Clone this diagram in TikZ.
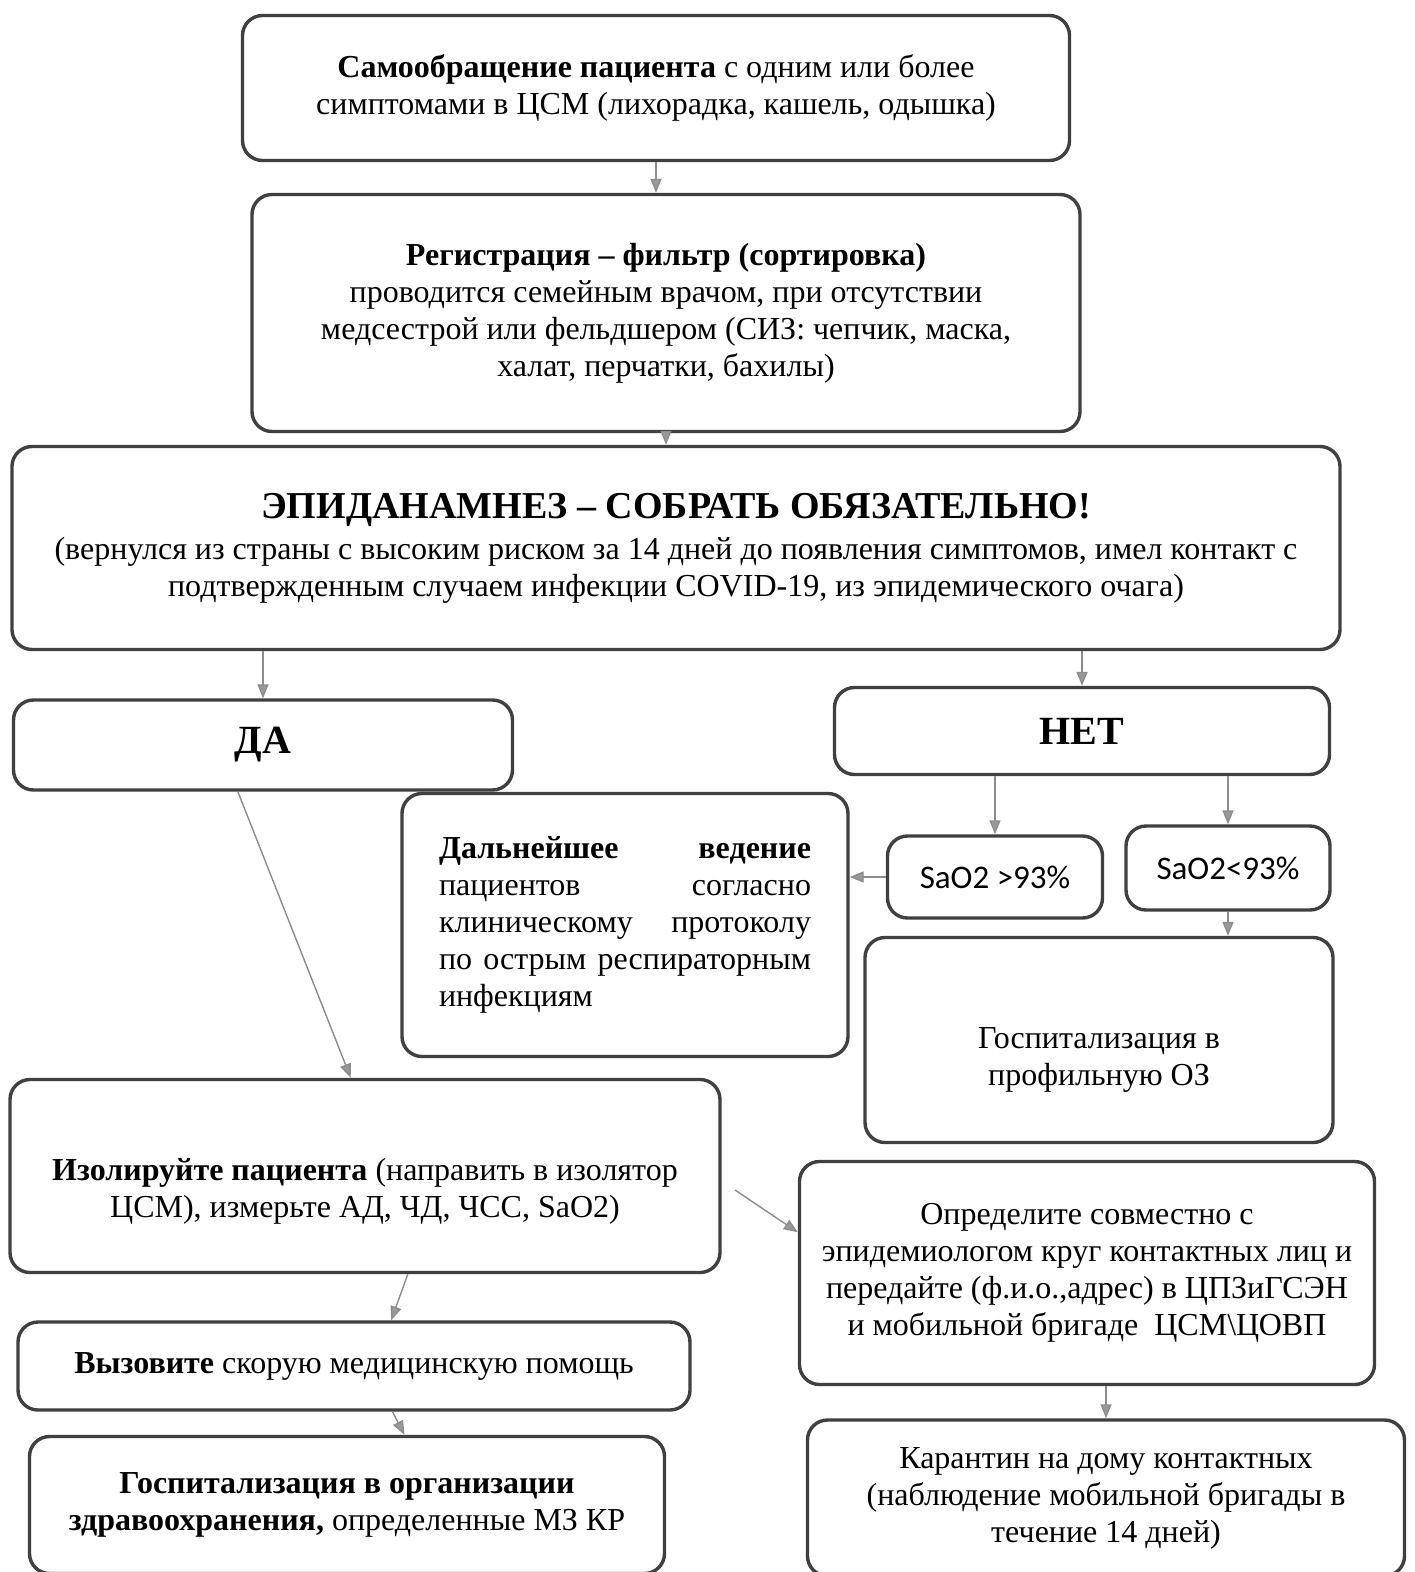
\documentclass[tikz,border=0pt]{standalone}
\usepackage{fontspec}
\setmainfont{Liberation Serif}
\newfontfamily\sansfont{Carlito}
\usetikzlibrary{arrows.meta,positioning,calc}

\tikzset{
  box/.style={draw=black!75, line width=3.4pt, rounded corners=20pt, align=center, inner sep=0pt, fill=white},
  arr/.style={draw=black!45, line width=1.4pt, -{Triangle[length=14pt,width=11pt,fill=black!40]}},
  big/.style={font=\fontsize{40}{46}\selectfont\bfseries},
  sat/.style={font=\sansfont\fontsize{33}{38}\selectfont},
}

\begin{document}
\begin{tikzpicture}[x=1pt,y=-1pt, font=\fontsize{32}{37}\selectfont]
\useasboundingbox[fill=white] (0,0) rectangle (1414,1572);
% top part
\node[box, minimum width=827pt, minimum height=145pt] (self) at (656,88)
  {\textbf{Самообращение пациента} с одним или более\\ симптомами в ЦСМ (лихорадка, кашель, одышка)};
\node[box, minimum width=828pt, minimum height=237pt] (reg) at (666,313)
  {\textbf{Регистрация – фильтр (сортировка)}\\ проводится семейным врачом, при отсутствии\\ медсестрой или фельдшером (СИЗ: чепчик, маска,\\ халат, перчатки, бахилы)};
\node[box, minimum width=1328pt, minimum height=203pt] (epid) at (676,548)
  {{\fontsize{38}{44}\selectfont\bfseries ЭПИДАНАМНЕЗ – СОБРАТЬ ОБЯЗАТЕЛЬНО!}\\[4pt]
   (вернулся из страны с высоким риском за 14 дней до появления симптомов, имел контакт с\\
   подтвержденным случаем инфекции COVID-19, из эпидемического очага)};
% yes / no
\node[box, big, minimum width=499pt, minimum height=90pt] (da) at (263,745) {ДА};
\node[box, big, minimum width=495pt, minimum height=87pt] (net) at (1082,731) {НЕТ};
\node[box, minimum width=446pt, minimum height=263pt, text width=372pt, align=left] (further) at (625,925)
  {\textbf{Дальнейшее}\hfill\textbf{ведение}\\
   пациентов\hfill согласно\\
   клиническому\hfill протоколу\\
   по\hfill острым\hfill респираторным\\
   инфекциям};
\node[box, sat, minimum width=215pt, minimum height=82pt] (sahi) at (995,877) {SaO2 >93\%};
\node[box, sat, minimum width=204pt, minimum height=84pt] (salo) at (1228,868) {SaO2<93\%};
\node[box, minimum width=468pt, minimum height=205pt] (hosp) at (1099,1040)
  {\mbox{}\\[24pt]Госпитализация в\\ профильную ОЗ};
% bottom part
\node[box, minimum width=710pt, minimum height=193pt] (iso) at (365,1176)
  {\mbox{}\\[16pt]\textbf{Изолируйте пациента} (направить в изолятор\\ ЦСМ), измерьте АД, ЧД, ЧСС, SaO2)};
\node[box, minimum width=575pt, minimum height=223pt] (contacts) at (1087,1273)
  {Определите совместно с\\ эпидемиологом круг контактных лиц и\\ передайте (ф.и.о.,адрес) в ЦПЗиГСЭН\\ и мобильной бригаде\ \ ЦСМ\textbackslash ЦОВП};
\node[box, minimum width=672pt, minimum height=88pt] (call) at (354,1366)
  {\textbf{Вызовите} скорую медицинскую помощь};
\node[box, minimum width=635pt, minimum height=137pt] (hospkr) at (347,1505)
  {\textbf{Госпитализация в организации}\\ \textbf{здравоохранения,} определенные МЗ КР};
\node[box, minimum width=597pt, minimum height=156pt] (quar) at (1106,1498)
  {Карантин на дому контактных\\ (наблюдение мобильной бригады в\\ течение 14 дней)};
\coordinate (isoout) at (735,1190);
% connectors
\draw[arr] (self.south) -- (self.south |- reg.north);
\draw[arr] (reg.south) -- (reg.south |- epid.north);
\draw[arr] (da.north |- epid.south) -- (da.north);
\draw[arr] (net.north |- epid.south) -- (net.north);
\draw[arr] (sahi.north |- net.south) -- (sahi.north);
\draw[arr] (salo.north |- net.south) -- (salo.north);
\draw[arr] (sahi.west) -- (sahi.west -| further.east);
\draw[arr] (salo.south) -- (salo.south |- hosp.north);
\draw[arr] ($(da.south west)!0.45!(da.south east)$) -- ($(iso.north west)!0.48!(iso.north east)$);
\draw[arr] (isoout) -- ($(contacts.north west)!0.32!(contacts.south west)$);
\draw[arr] ($(iso.south west)!0.56!(iso.south east)$) -- ($(call.north west)!0.555!(call.north east)$);
\draw[arr] ($(call.south west)!0.557!(call.south east)$) -- ($(hospkr.north west)!0.59!(hospkr.north east)$);
\draw[arr] (quar.north |- contacts.south) -- (quar.north);
\end{tikzpicture}
\end{document}
